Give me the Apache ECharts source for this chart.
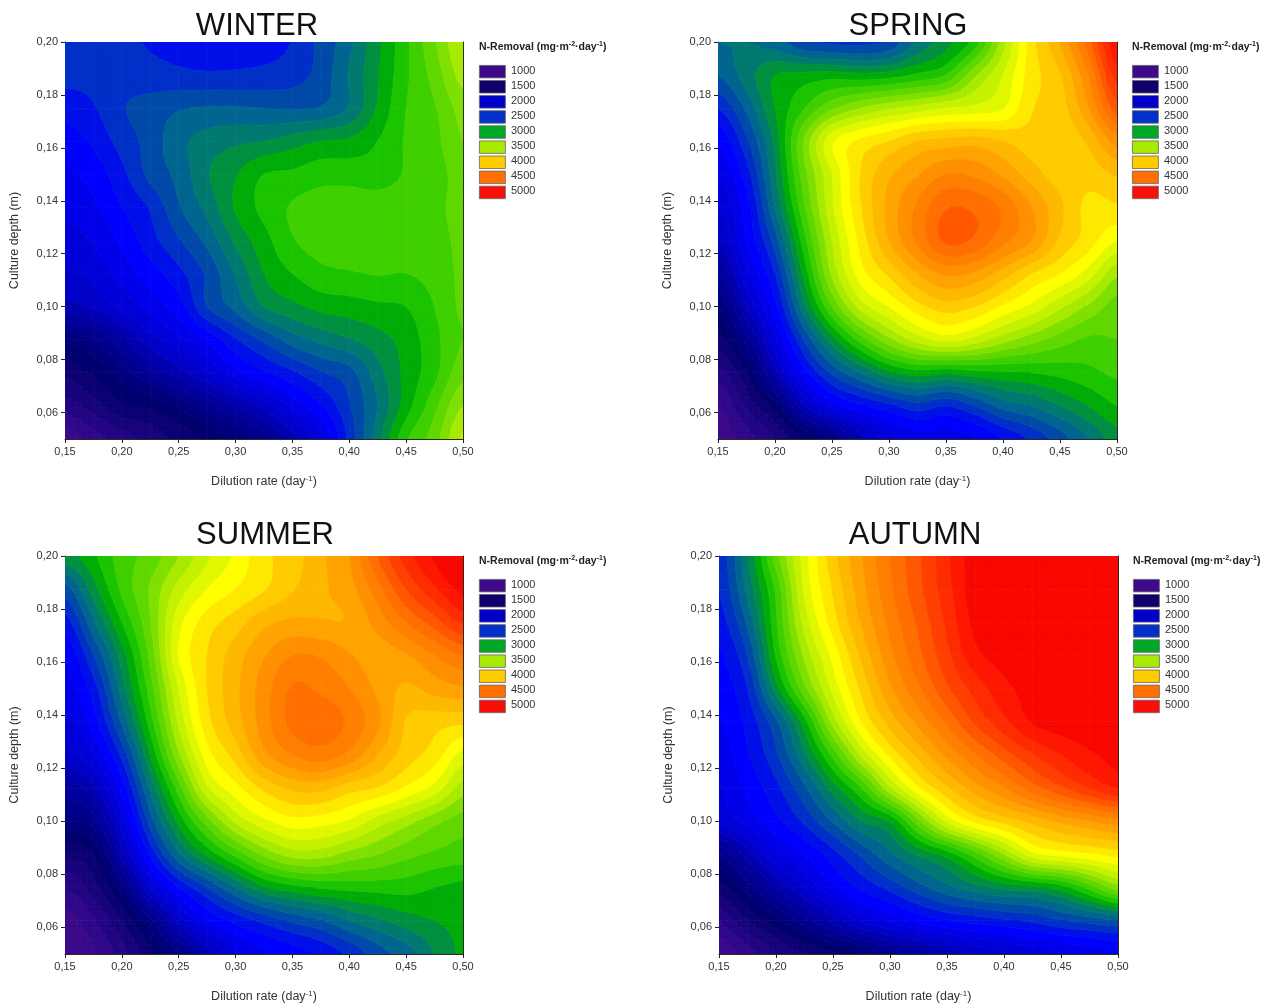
<!DOCTYPE html>
<html>
<head>
<meta charset="utf-8">
<style>html,body{margin:0;padding:0;background:#fff}#c{width:1271px;height:1007px}</style>
<script src="https://cdn.jsdelivr.net/npm/echarts@6/dist/echarts.min.js"></script>
</head>
<body>
<div id="c"></div>
<script>
const dilutionRates = [0.15,0.175,0.2,0.225,0.25,0.275,0.3,0.325,0.35,0.375,0.4,0.425,0.45,0.475,0.5];
const cultureDepths = [0.2,0.1875,0.175,0.1625,0.15,0.1375,0.125,0.1125,0.1,0.0875,0.075,0.0625,0.05];
const xTickLabels = [0.15,0.2,0.25,0.3,0.35,0.4,0.45,0.5];
const yTickLabels = [0.06,0.08,0.1,0.12,0.14,0.16,0.18,0.2];
const legendLevels = [1000,1500,2000,2500,3000,3500,4000,4500,5000];
const legendColors = ['#3c0a8a','#10006e','#0000c8','#0030c8','#00a828','#a8ea00','#ffcc00','#ff7000','#f81008'];
const seasonNames = ['WINTER','SPRING','SUMMER','AUTUMN'];

const winterValues = [
[2550,2540,2520,2490,2460,2440,2440,2460,2505,2630,2775,2975,3175,3385,3600],
[2530,2530,2555,2540,2525,2515,2520,2530,2560,2640,2810,2990,3180,3340,3540],
[2440,2490,2590,2640,2690,2710,2710,2700,2690,2710,2810,3010,3200,3290,3440],
[2350,2420,2540,2640,2770,2840,2880,2900,2950,3000,3020,3100,3210,3270,3400],
[2280,2340,2470,2630,2730,2890,2990,3100,3120,3160,3160,3150,3210,3260,3340],
[2220,2280,2400,2510,2690,2830,3010,3130,3210,3240,3250,3250,3260,3280,3330],
[2160,2210,2320,2460,2590,2730,2920,3060,3190,3240,3250,3250,3260,3270,3320],
[2080,2130,2240,2350,2470,2620,2810,3000,3100,3170,3190,3205,3200,3240,3320],
[1960,2020,2130,2240,2350,2600,2730,2900,2970,3030,3050,3080,3100,3200,3320],
[1620,1700,1880,2060,2180,2320,2490,2620,2750,2830,2890,2960,3040,3170,3300],
[1420,1520,1650,1800,1960,2100,2260,2380,2480,2590,2660,2860,3030,3170,3370],
[1250,1350,1480,1520,1620,1760,1900,2040,2230,2390,2590,2800,3050,3270,3500],
[1030,1150,1250,1340,1430,1520,1620,1760,1950,2180,2530,2860,3180,3350,3620]];

const springValues = [
[2800,2800,2750,2620,2580,2570,2620,2820,2960,3140,3560,3950,4200,4550,5000],
[2700,2850,3000,3030,3050,3030,3050,3120,3200,3480,3700,3950,4090,4400,4850],
[2500,2720,3000,3190,3380,3500,3580,3640,3700,3730,3790,3990,4050,4290,4650],
[2300,2580,2930,3400,3780,3920,4000,4100,4130,4150,4100,4040,4030,4120,4340],
[2200,2450,2880,3350,3700,4000,4180,4290,4400,4380,4280,4150,4050,4040,4110],
[2100,2350,2800,3270,3680,3990,4230,4420,4590,4580,4480,4300,4120,3970,3980],
[2000,2300,2650,3150,3600,3930,4200,4420,4620,4580,4430,4300,4080,3950,3800],
[1800,2180,2500,3020,3520,3850,4020,4200,4320,4280,4150,4000,3900,3750,3520],
[1600,2000,2360,2860,3300,3640,3800,3960,4050,4000,3880,3770,3620,3480,3350],
[1450,1750,2180,2600,2950,3240,3470,3640,3730,3660,3540,3440,3350,3280,3300],
[1250,1500,1950,2350,2620,2800,2970,3050,3020,3060,3080,3100,3130,3170,3220],
[1080,1320,1550,1980,2250,2380,2470,2560,2500,2600,2740,2800,2900,3000,3100],
[1030,1150,1300,1500,1700,1950,2150,2250,2250,2280,2400,2520,2650,2800,2950]];

const summerValues = [
[2950,3080,3250,3340,3500,3680,3820,3970,4050,4180,4300,4600,4850,5020,5150],
[2650,2950,3220,3410,3640,3800,3900,3990,4090,4180,4260,4460,4700,4880,5030],
[2450,2780,3100,3390,3760,3950,4050,4170,4220,4210,4210,4340,4500,4650,4820],
[2300,2600,2950,3330,3800,4000,4150,4290,4400,4390,4310,4250,4290,4400,4500],
[2250,2450,2850,3250,3700,4000,4170,4350,4510,4480,4400,4280,4180,4240,4280],
[2150,2350,2720,3150,3620,3960,4150,4350,4530,4560,4480,4320,4090,4040,4020],
[2050,2200,2530,3000,3480,3850,4040,4270,4400,4450,4370,4200,4050,3950,3760],
[1850,1970,2340,2820,3250,3680,3860,4020,4120,4130,4040,3990,3880,3760,3550],
[1650,1750,2150,2650,3030,3350,3620,3770,3860,3840,3780,3650,3540,3430,3350],
[1420,1500,1950,2420,2780,3020,3230,3420,3540,3540,3460,3400,3330,3280,3250],
[1200,1350,1650,2100,2400,2600,2800,2980,3060,3110,3130,3140,3140,3100,3070],
[1050,1180,1400,1680,2050,2300,2430,2530,2620,2690,2800,2880,2950,3000,3030],
[1000,1080,1250,1480,1700,1950,2180,2280,2350,2420,2520,2650,2750,2900,3020]];

const autumnValues = [
[2530,2880,3350,3750,4060,4290,4500,4680,4880,5060,5120,5150,5170,5190,5200],
[2500,2830,3220,3720,4010,4260,4480,4670,4860,5060,5100,5130,5150,5180,5200],
[2450,2720,3180,3640,3950,4210,4430,4620,4820,5030,5070,5100,5130,5160,5180],
[2380,2600,3110,3520,3830,4120,4370,4570,4770,4970,5040,5070,5100,5130,5160],
[2340,2500,2950,3370,3730,4020,4280,4480,4680,4840,4970,5040,5070,5100,5130],
[2290,2430,2680,3060,3540,3900,4140,4330,4520,4720,4870,5010,5050,5070,5090],
[2240,2390,2580,2880,3230,3620,3920,4130,4320,4490,4650,4790,4900,4980,5040],
[2190,2320,2470,2680,2950,3200,3580,3880,4080,4250,4390,4550,4680,4800,4900],
[2120,2240,2370,2520,2710,2900,3010,3370,3720,3920,4030,4130,4220,4290,4360],
[1700,1950,2180,2300,2460,2620,2780,2920,3040,3250,3500,3760,3830,3880,3930],
[1450,1650,1900,2100,2280,2420,2530,2660,2770,2860,2930,2970,3050,3240,3450],
[1200,1400,1560,1760,1950,2120,2220,2320,2400,2440,2480,2520,2590,2640,2700],
[1020,1150,1300,1400,1480,1600,1750,1850,1950,2030,2090,2150,2200,2240,2280]];

const bandStarts = [1000,1100,1200,1300,1400,1500,1600,1700,1800,1900,2000,2100,2200,2300,2400,2500,2600,2700,2800,2900,3000,3100,3200,3300,3400,3500,3600,3700,3800,3900,4000,4100,4200,4300,4400,4500,4600,4700,4800,4900,5000];
const bandColors = ['#3c0a8a','#30088a','#240684','#18047c','#0c0274','#00006e','#00007e','#00008e','#00009e','#0000b0','#0000c8','#0000d8','#0000ea','#0000ff','#0010e8','#0030c8','#004ba8','#006690','#007a70','#009040','#00ac08','#1cc400','#40d000','#60d800','#80e000','#a8ea00','#c4f200','#e0f800','#ffff00','#ffe800','#ffcc00','#ffb800','#ffa400','#ff9000','#ff8000','#ff7000','#ff5800','#ff4000','#ff2c00','#ff1800','#f80800'];

const panels = [
 {name:seasonNames[0],values:winterValues,left:65,top:42,width:398,height:397,titleX:252,titleY:21,legX:479,legY:48},
 {name:seasonNames[1],values:springValues,left:718,top:42,width:399,height:397,titleX:903,titleY:21,legX:1132,legY:48},
 {name:seasonNames[2],values:summerValues,left:65,top:556,width:398,height:398,titleX:260,titleY:530,legX:479,legY:562},
 {name:seasonNames[3],values:autumnValues,left:719,top:556,width:399,height:398,titleX:910,titleY:530,legX:1133,legY:562}
];

const SUB = 6;
function cr(p0,p1,p2,p3,t){return 0.5*((2*p1)+(-p0+p2)*t+(2*p0-5*p1+4*p2-p3)*t*t+(-p0+3*p1-3*p2+p3)*t*t*t);}
function sampleSurface(vals,r,c,tr,tc){
  const R=vals.length,C=vals[0].length,g=(i,j)=>vals[Math.max(0,Math.min(R-1,i))][Math.max(0,Math.min(C-1,j))];
  const col=[];
  for(let k=-1;k<=2;k++) col.push(cr(g(r+k,c-1),g(r+k,c),g(r+k,c+1),g(r+k,c+2),tc));
  return cr(col[0],col[1],col[2],col[3],tr);
}
function clipPoly(poly,lev,above){
  const out=[];
  for(let i=0;i<poly.length;i++){
    const a=poly[i],b=poly[(i+1)%poly.length];
    const ia=above?a[2]>=lev:a[2]<=lev, ib=above?b[2]>=lev:b[2]<=lev;
    if(ia) out.push(a);
    if(ia!==ib){const t=(lev-a[2])/(b[2]-a[2]);out.push([a[0]+(b[0]-a[0])*t,a[1]+(b[1]-a[1])*t,lev]);}
  }
  return out;
}
function bandIndex(v){return Math.max(0,Math.min(bandStarts.length-1,Math.floor((v-bandStarts[0])/100)));}
function makeRender(vals){
  return function(params,api){
    const c=api.value(3),r=api.value(4);
    if(r>=vals.length-1||c>=vals[0].length-1) return {type:'group',children:[]};
    const x0=api.value(0),y0=api.value(1),dx=dilutionRates[c+1]-x0,dy=cultureDepths[r+1]-y0;
    const pts=[];
    for(let a=0;a<=SUB;a++){pts.push([]);for(let b=0;b<=SUB;b++){
      const p=api.coord([x0+dx*b/SUB,y0+dy*a/SUB]);
      pts[a].push([p[0],p[1],sampleSurface(vals,r,c,a/SUB,b/SUB)]);
    }}
    const paths={};
    for(let a=0;a<SUB;a++)for(let b=0;b<SUB;b++){
      const q=[pts[a][b],pts[a][b+1],pts[a+1][b+1],pts[a+1][b]];
      const vs=q.map(p=>p[2]),i0=bandIndex(Math.min(...vs)),i1=bandIndex(Math.max(...vs));
      for(let i=i0;i<=i1;i++){
        let poly=q;
        if(i>0) poly=clipPoly(poly,bandStarts[i],true);
        if(i<bandStarts.length-1&&poly.length) poly=clipPoly(poly,bandStarts[i]+100,false);
        if(poly.length<3) continue;
        paths[i]=(paths[i]||'')+'M'+poly.map(p=>p[0].toFixed(2)+' '+p[1].toFixed(2)).join('L')+'Z';
      }
    }
    const children=Object.keys(paths).map(i=>({type:'path',shape:{pathData:paths[i]},style:{fill:bandColors[i],stroke:bandColors[i],lineWidth:0.7},silent:true}));
    return {type:'group',children};
  };
}
const font='"Liberation Sans", Arial, sans-serif';
const comma=v=>Number(v).toFixed(2).replace('.',',');
const labelStyle={fontFamily:font,fontSize:11,color:'#333'};
const grids=[],xAxes=[],yAxes=[],series=[],titles=[],graphics=[];
panels.forEach((p,k)=>{
  grids.push({left:p.left,top:p.top,width:p.width,height:p.height,containLabel:false});
  const line={show:true,onZero:false,lineStyle:{color:'#2a2a22',width:1}};
  xAxes.push({type:'value',gridIndex:k,min:0.15,max:0.5,interval:0.05,position:'bottom',
    axisLine:line,axisTick:{show:true,length:4,lineStyle:{color:'#222'}},splitLine:{show:false},
    axisLabel:Object.assign({margin:7,formatter:comma},labelStyle),
    name:'{a|Dilution rate (day}{s|-1}{a|)}',nameLocation:'middle',nameGap:36,
    nameTextStyle:{rich:{a:{fontFamily:font,fontSize:12.5,color:'#333'},s:{fontFamily:font,fontSize:8,color:'#333',padding:[0,0,6,0]}}}});
  xAxes.push({type:'value',gridIndex:k,min:0.15,max:0.5,position:'top',axisLine:line,axisTick:{show:false},axisLabel:{show:false},splitLine:{show:false}});
  yAxes.push({type:'value',gridIndex:k,min:0.05,max:0.2,position:'left',
    axisLine:line,axisTick:{show:true,length:4,customValues:yTickLabels,lineStyle:{color:'#222'}},splitLine:{show:false},
    axisLabel:Object.assign({margin:7,customValues:yTickLabels,formatter:comma},labelStyle),
    name:'Culture depth (m)',nameLocation:'middle',nameGap:44,
    nameTextStyle:{fontFamily:font,fontSize:12.5,color:'#333'}});
  yAxes.push({type:'value',gridIndex:k,min:0.05,max:0.2,position:'right',axisLine:line,axisTick:{show:false},axisLabel:{show:false},splitLine:{show:false}});
  const data=[];
  p.values.forEach((row,r)=>row.forEach((v,c)=>data.push([dilutionRates[c],cultureDepths[r],v,c,r])));
  series.push({type:'custom',name:p.name,xAxisIndex:k*2,yAxisIndex:k*2,data,renderItem:makeRender(p.values),
    encode:{x:0,y:1},clip:true,animation:false,progressive:0,silent:true});
  titles.push({text:p.name,left:p.titleX,top:p.titleY,textAlign:'center',textVerticalAlign:'middle',
    textStyle:{fontFamily:font,fontSize:31,fontWeight:'normal',color:'#111'}});
  graphics.push({type:'text',left:p.legX,top:p.legY-7,style:{
    text:'{b|N-Removal (mg·m}{s|-2}{b|·day}{s|-1}{b|)}',
    rich:{b:{fontFamily:font,fontSize:10.5,fontWeight:'bold',fill:'#222'},s:{fontFamily:font,fontSize:7,fontWeight:'bold',fill:'#222',padding:[0,0,5,0]}}}});
  legendLevels.forEach((lv,i)=>{
    const y=p.legY+17+i*15.1;
    graphics.push({type:'rect',left:p.legX,top:y,shape:{width:26,height:12.5},style:{fill:legendColors[i],stroke:'#666',lineWidth:0.8}});
    graphics.push({type:'text',left:p.legX+32,top:y,style:{text:String(lv),fontFamily:font,fontSize:11,fill:'#333'}});
  });
});
const chart=echarts.init(document.getElementById('c'),null,{renderer:'canvas'});
chart.setOption({animation:false,backgroundColor:'#fff',title:titles,grid:grids,xAxis:xAxes,yAxis:yAxes,series,graphic:graphics,tooltip:{show:false}});
</script>
</body>
</html>
